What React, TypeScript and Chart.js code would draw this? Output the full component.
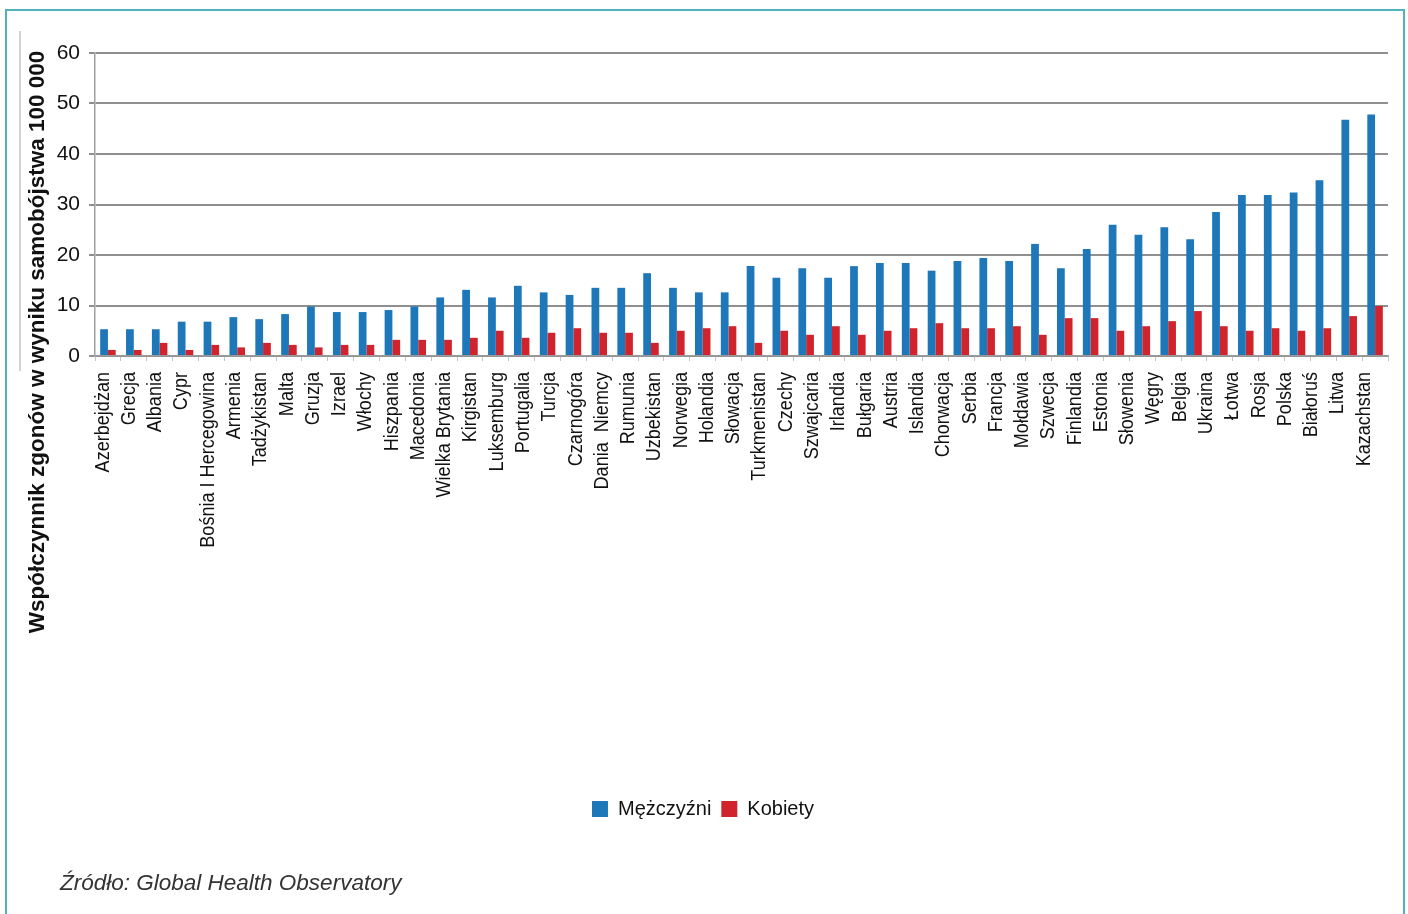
import React, { useEffect, useRef } from 'react';
import { Chart, registerables } from 'chart.js';

Chart.register(...registerables);

// Country names as printed under the axis (49 labels)
const COUNTRY_LABELS: string[] = [
  'Azerbejdżan', 'Grecja', 'Albania', 'Cypr', 'Bośnia I Hercegowina', 'Armenia',
  'Tadżykistan', 'Malta', 'Gruzja', 'Izrael', 'Włochy', 'Hiszpania', 'Macedonia',
  'Wielka Brytania', 'Kirgistan', 'Luksemburg', 'Portugalia', 'Turcja', 'Czarnogóra',
  'Dania  Niemcy', 'Rumunia', 'Uzbekistan', 'Norwegia', 'Holandia', 'Słowacja',
  'Turkmenistan', 'Czechy', 'Szwajcaria', 'Irlandia', 'Bułgaria', 'Austria',
  'Islandia', 'Chorwacja', 'Serbia', 'Francja', 'Mołdawia', 'Szwecja', 'Finlandia',
  'Estonia', 'Słowenia', 'Węgry', 'Belgia', 'Ukraina', 'Łotwa', 'Rosja', 'Polska',
  'Białoruś', 'Litwa', 'Kazachstan',
];
// label axis range (labels are spread slightly differently from the bars)
const LABEL_AXIS_MIN = -0.3;
const LABEL_AXIS_MAX = 48.92;

// Bar values (50 bar pairs are drawn in the picture)
const MALE: number[] = [
  5.3, 5.3, 5.3, 6.8, 6.8, 7.7, 7.3, 8.3, 9.8, 8.7,
  8.7, 9.1, 9.8, 11.6, 13.1, 11.6, 13.9, 12.6, 12.1, 13.5,
  13.5, 16.4, 13.5, 12.6, 12.6, 17.8, 15.5, 17.4, 15.5, 17.8,
  18.4, 18.4, 16.9, 18.8, 19.4, 18.8, 22.2, 17.4, 21.2, 26.0,
  24.0, 25.5, 23.1, 28.5, 31.9, 31.9, 32.4, 34.8, 46.8, 47.8,
];
const FEMALE: number[] = [
  1.2, 1.2, 2.6, 1.2, 2.2, 1.7, 2.6, 2.2, 1.7, 2.2,
  2.2, 3.2, 3.2, 3.2, 3.6, 5.0, 3.6, 4.6, 5.5, 4.6,
  4.6, 2.6, 5.0, 5.5, 5.9, 2.6, 5.0, 4.2, 5.9, 4.2,
  5.0, 5.5, 6.5, 5.5, 5.5, 5.9, 4.2, 7.5, 7.5, 5.0,
  5.9, 6.9, 8.9, 5.9, 5.0, 5.5, 5.0, 5.5, 7.9, 9.9,
];
const BAR_SLOTS: string[] = MALE.map((_, i) => String(i + 1));

const SERIES_NAMES = ['Mężczyźni', 'Kobiety'];
const Y_TICKS_MAX = 60;
const Y_STEP = 10;
const Y_TITLE = 'Współczynnik zgonów w wyniku samobójstwa 100 000';
const SOURCE = 'Źródło: Global Health Observatory';

const BLUE = '#1d77b9';
const RED = '#d0232b';
const FONT = '"Liberation Sans", Arial, sans-serif';

// y title (centred lower than the plot, as in the reference) and
// narrow rotated country labels placed by the x2 label scale
const textPlugin = {
  id: 'sideTexts',
  afterDraw(chart: any) {
    const ctx = chart.ctx;
    ctx.save();
    ctx.translate(38, 342);
    ctx.rotate(-Math.PI / 2);
    ctx.font = `bold 22.5px ${FONT}`;
    ctx.fillStyle = '#111';
    ctx.textAlign = 'center';
    ctx.textBaseline = 'middle';
    ctx.fillText(Y_TITLE, 0, 0);
    ctx.restore();

    const sc = chart.scales.x2;
    ctx.font = `21px ${FONT}`;
    ctx.fillStyle = '#111';
    COUNTRY_LABELS.forEach((t, i) => {
      const x = sc.getPixelForValue(i);
      ctx.save();
      ctx.translate(x, sc.top + 10);
      ctx.rotate(-Math.PI / 2);
      ctx.scale(0.86, 1);
      ctx.textAlign = 'right';
      ctx.textBaseline = 'middle';
      ctx.fillText(t, 0, 0);
      ctx.restore();
    });
  },
};

export default function App() {
  const ref = useRef<HTMLCanvasElement>(null);

  useEffect(() => {
    const canvas = ref.current;
    if (!canvas) return;
    const chart = new Chart(canvas, {
      type: 'bar',
      data: {
        labels: BAR_SLOTS,
        datasets: [
          {
            label: SERIES_NAMES[0],
            data: MALE,
            backgroundColor: BLUE,
            borderWidth: 0,
            categoryPercentage: 0.6,
            barPercentage: 1.0,
          },
          {
            label: SERIES_NAMES[1],
            data: FEMALE,
            backgroundColor: RED,
            borderWidth: 0,
            categoryPercentage: 0.6,
            barPercentage: 1.0,
          },
        ],
      },
      options: {
        responsive: false,
        animation: false,
        devicePixelRatio: 1,
        layout: { padding: { left: 18, right: 20, top: 53, bottom: 85 } },
        plugins: {
          legend: {
            position: 'bottom',
            labels: {
              boxWidth: 16,
              boxHeight: 16,
              padding: 10,
              color: '#111',
              font: { family: FONT, size: 20 },
            },
          },
          tooltip: { enabled: false },
        },
        scales: {
          x: {
            type: 'category',
            position: 'bottom',
            weight: 0,
            offset: true,
            grid: {
              display: true,
              drawOnChartArea: false,
              drawTicks: true,
              tickLength: 5,
              color: '#c4c4c4',
              offset: true,
            },
            border: { display: true, color: '#9a9a9a', width: 1.5 },
            ticks: { display: false },
            afterFit: (s: any) => { s.height = 6; },
          },
          x2: {
            type: 'linear',
            position: 'bottom',
            weight: 1,
            offset: false,
            beginAtZero: false,
            grace: 0,
            min: LABEL_AXIS_MIN,
            max: LABEL_AXIS_MAX,
            grid: { display: false, drawTicks: false, offset: false },
            border: { display: false },
            ticks: { display: false },
            afterFit: (s: any) => { s.height = 427; },
          },
          y: {
            min: 0,
            max: Y_TICKS_MAX,
            grid: {
              color: '#8f8f8f',
              lineWidth: 2,
              drawTicks: true,
              tickLength: 6,
            },
            border: { display: true, color: '#a0a0a0', width: 1.5 },
            ticks: {
              stepSize: Y_STEP,
              padding: 9,
              color: '#111',
              font: { family: FONT, size: 21 },
            },
            afterFit: (s: any) => { s.width = 77; },
          },
        },
      },
      plugins: [textPlugin],
    } as any);
    return () => chart.destroy();
  }, []);

  return (
    <div style={{ position: 'absolute', left: 0, top: 0, width: 1408, height: 914, overflow: 'hidden', background: '#fff' }}>
      <div style={{ position: 'absolute', left: 5, top: 9, width: 1400, height: 1000, border: '2px solid #52b3bc', boxSizing: 'border-box' }} />
      <div style={{ position: 'absolute', left: 19, top: 31, width: 2, height: 340, background: '#d2d2d2' }} />
      <canvas ref={ref} width={1408} height={914} style={{ position: 'absolute', left: 0, top: 0, width: 1408, height: 914 }} />
      <div style={{ position: 'absolute', left: 60, top: 871, font: `italic 22.5px ${FONT}`, color: '#333', whiteSpace: 'nowrap', lineHeight: '24px' }}>
        {SOURCE}
      </div>
    </div>
  );
}
